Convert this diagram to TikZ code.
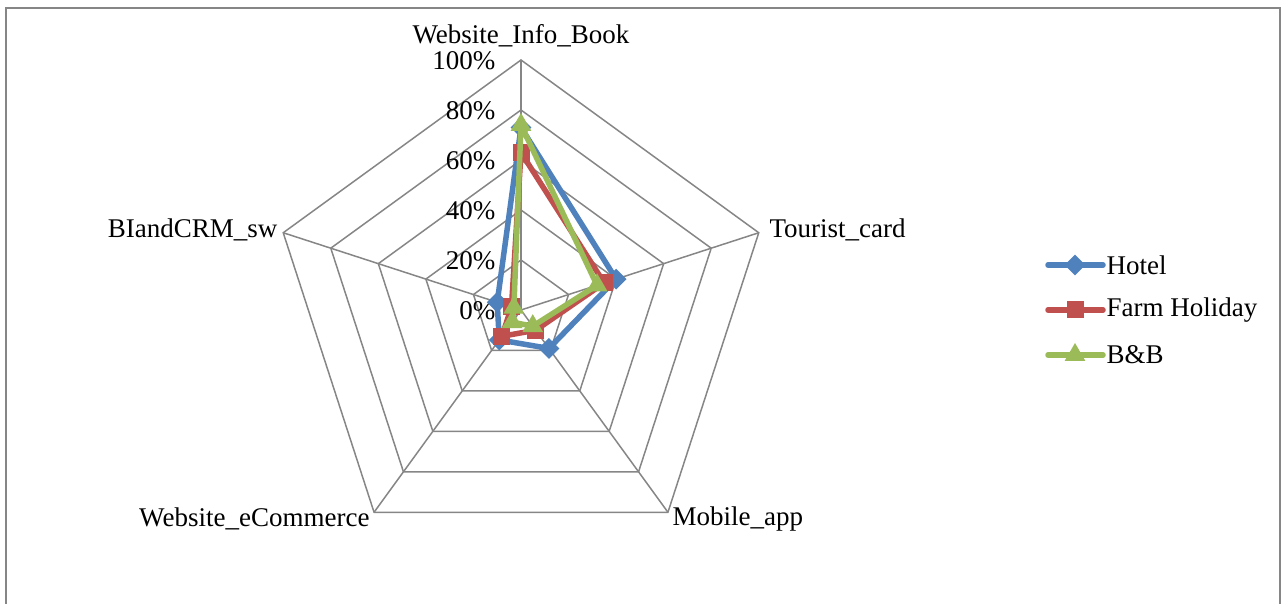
\documentclass[tikz,border=0pt]{standalone}
\usepackage{fontspec}
\setmainfont{Liberation Serif}
\usetikzlibrary{shapes.geometric}
\definecolor{hotelblue}{HTML}{4F81BD}
\definecolor{farmred}{HTML}{C0504D}
\definecolor{bbgreen}{HTML}{9BBB59}
\definecolor{gridgray}{HTML}{868686}

\begin{document}
\begin{tikzpicture}[x=1pt,y=1pt,font=\fontsize{27}{32}\selectfont,
  gridline/.style={gridgray,line width=1.5pt},
  series/.style={line width=5.5pt,line join=round},
  hmark/.style={diamond,fill=hotelblue,inner sep=0pt,minimum size=21pt},
  fmark/.style={rectangle,fill=farmred,inner sep=0pt,minimum size=17pt},
  bmark/.style={regular polygon,regular polygon sides=3,fill=bbgreen,inner sep=0pt,minimum size=24pt}]
\useasboundingbox (-521,-294) rectangle (761,310);
\draw [gridgray,line width=2pt] (-515,-330) rectangle (759,302);
% grid
\draw [gridline] (90:50) -- (18:50) -- (-54:50) -- (-126:50) -- (162:50) -- cycle;
\draw [gridline] (90:100) -- (18:100) -- (-54:100) -- (-126:100) -- (162:100) -- cycle;
\draw [gridline] (90:150) -- (18:150) -- (-54:150) -- (-126:150) -- (162:150) -- cycle;
\draw [gridline] (90:200) -- (18:200) -- (-54:200) -- (-126:200) -- (162:200) -- cycle;
\draw [gridline] (90:250) -- (18:250) -- (-54:250) -- (-126:250) -- (162:250) -- cycle;
\draw [gridline] (0,0) -- (90:250);
\draw [gridline] (0,0) -- (18:250);
\draw [gridline] (0,0) -- (-54:250);
\draw [gridline] (0,0) -- (-126:250);
\draw [gridline] (0,0) -- (162:250);
% axis labels
\node (infobook) at (0,274) {Website\_Info\_Book};
\node [anchor=west] (touristcard) at (245,80) {Tourist\_card};
\node [anchor=west] (mobileapp) at (148,-209) {Mobile\_app};
\node [anchor=east] (ecommerce) at (-148,-209) {Website\_eCommerce};
\node [anchor=east] (bicrm) at (-240,80) {BIandCRM\_sw};
\node [anchor=east] (p100) at (-22,249) {100\%};
\node [anchor=east] (p80) at (-22,199) {80\%};
\node [anchor=east] (p60) at (-22,149) {60\%};
\node [anchor=east] (p40) at (-22,99) {40\%};
\node [anchor=east] (p20) at (-22,49) {20\%};
\node [anchor=east] (p0) at (-22,-1) {0\%};
% Hotel
\coordinate (h1) at (90:182.5);
\coordinate (h2) at (18:100);
\coordinate (h3) at (-54:47.5);
\coordinate (h4) at (-126:37);
\coordinate (h5) at (162:25);
\draw [series,hotelblue] (h1) -- (h2) -- (h3) -- (h4) -- (h5) -- cycle;
\node [hmark] at (h1) {};
\node [hmark] at (h2) {};
\node [hmark] at (h3) {};
\node [hmark] at (h4) {};
\node [hmark] at (h5) {};
% Farm Holiday
\coordinate (f1) at (90:157.5);
\coordinate (f2) at (18:87.5);
\coordinate (f3) at (-54:25);
\coordinate (f4) at (-126:32.5);
\coordinate (f5) at (162:10);
\draw [series,farmred] (f1) -- (f2) -- (f3) -- (f4) -- (f5) -- cycle;
\node [fmark] at (f1) {};
\node [fmark] at (f2) {};
\node [fmark] at (f3) {};
\node [fmark] at (f4) {};
\node [fmark] at (f5) {};
% B&B
\coordinate (b1) at (90:185);
\coordinate (b2) at (18:80);
\coordinate (b3) at (-54:20);
\coordinate (b4) at (-126:15);
\coordinate (b5) at (162:7.5);
\draw [series,bbgreen] (b1) -- (b2) -- (b3) -- (b4) -- (b5) -- cycle;
\node [bmark] at (b1) {};
\node [bmark] at (b2) {};
\node [bmark] at (b3) {};
\node [bmark] at (b4) {};
\node [bmark] at (b5) {};
% legend
\coordinate (lh0) at (527,45);
\coordinate (lh1) at (582,45);
\draw [series,hotelblue,line cap=round] (lh0) -- (lh1);
\node [hmark] (lhm) at (554,45) {};
\node [anchor=west] (lhotel) at (582,45) {Hotel};
\coordinate (lf0) at (527,0);
\coordinate (lf1) at (582,0);
\draw [series,farmred,line cap=round] (lf0) -- (lf1);
\node [fmark] (lfm) at (554,0) {};
\node [anchor=west] (lfarm) at (582,0) {Farm Holiday};
\coordinate (lb0) at (527,-45);
\coordinate (lb1) at (582,-45);
\draw [series,bbgreen,line cap=round] (lb0) -- (lb1);
\node [bmark] (lbm) at (554,-45) {};
\node [anchor=west] (lbb) at (582,-45) {B\&B};
\end{tikzpicture}
\end{document}
